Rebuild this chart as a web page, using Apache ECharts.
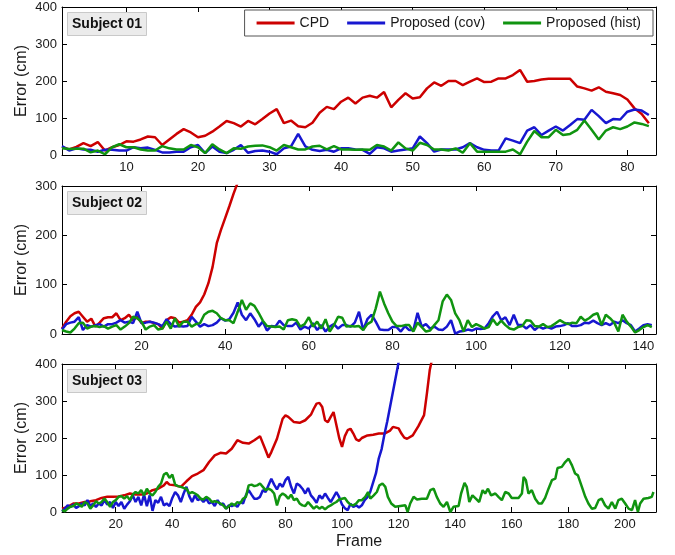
<!DOCTYPE html>
<html><head><meta charset="utf-8">
<script src="https://cdn.jsdelivr.net/npm/echarts@6/dist/echarts.min.js"></script>
<style>html,body{margin:0;padding:0;background:#fff}#c{width:675px;height:555px}</style>
</head><body><div id="c"></div>
<script>
// ---------- data ----------
const seriesNames = ['CPD', 'Proposed (cov)', 'Proposed (hist)'];
const subjectTitles = ['Subject 01', 'Subject 02', 'Subject 03'];
const xTicks1 = [10, 20, 30, 40, 50, 60, 70, 80];
const xTicks2 = [20, 40, 60, 80, 100, 120, 140];
const xTicks3 = [20, 40, 60, 80, 100, 120, 140, 160, 180, 200];

// Subject 01, frames 1..83
const s1Cpd = [22,15,22,32,24,35,12,21,27,37, 36,42,50,48,27,42,57,70,61,48,
  52,63,77,92,86,77,92,83,97,112, 124,86,93,78,75,87,114,130,124,144,
  155,139,155,160,155,170,129,149,167,153, 156,180,196,187,200,200,189,198,207,197,
  198,207,207,216,230,198,200,204,206,206, 206,206,185,180,174,183,171,167,162,150,
  126,111,86];
const s1Cov = [24,12,18,15,14,9,14,14,12,12, 21,18,20,14,7,7,9,9,21,27,
  5,23,9,5,14,27,6,11,12,9, 2,18,23,57,23,14,11,14,9,18,
  18,15,14,3,21,18,9,12,15,18, 50,32,9,15,15,15,21,32,21,14,
  12,12,45,39,32,66,75,54,66,77, 66,81,97,95,122,105,86,97,96,117,
  123,120,108];
const s1Hist = [18,16,17,17,7,12,2,21,29,21, 21,15,12,12,24,18,15,15,27,21,
  5,29,15,5,18,17,23,25,26,21, 12,27,21,15,15,23,25,15,24,15,
  15,14,15,14,27,23,12,34,18,12, 33,27,15,15,12,18,6,32,9,9,
  9,9,9,15,2,36,65,48,48,68, 54,57,68,93,68,42,66,75,70,77,
  88,84,78];

// Subject 02, frames 1..
const s2Cpd = [11,25,36,42,45,35,25,31,15,23, 32,34,34,42,28,32,39,28,35,22,
  25,25,22,20,11,28,34,32,23,25, 28,39,55,64,80,103,136,184,211,235,
  259,284,307,340,380];
const s2Cov = [9,20,23,25,34,8,18,15,18,20, 15,20,20,23,28,23,25,22,45,22,
  23,25,23,20,16,30,20,15,16,15, 16,35,25,15,20,16,18,23,32,27,
  30,43,64,39,28,42,30,15,25,7, 16,15,27,18,16,16,23,9,15,11,
  22,8,18,5,15,20,11,18,18,15, 23,45,8,30,39,25,9,8,8,14,
  14,5,16,8,8,43,15,20,11,15, 9,8,15,28,1,5,6,9,7,11,
  10,11,22,36,45,28,34,18,39,18, 18,11,18,8,15,11,14,11,15,16,
  18,22,16,16,18,23,22,27,22,18, 22,18,25,22,28,22,18,5,11,18,
  20,18];
const s2Hist = [8,5,3,11,22,23,11,15,16,14, 16,11,15,18,9,15,22,35,32,25,
  9,15,18,9,11,25,11,32,15,25, 25,15,20,22,39,45,47,42,32,28,
  28,22,45,69,49,62,57,43,27,16, 15,14,15,9,28,30,28,15,20,34,
  15,25,11,30,5,18,35,33,15,16, 15,16,8,20,25,52,86,62,42,25,
  16,16,18,18,5,23,14,5,7,18, 28,66,80,69,42,28,5,28,14,20,
  16,11,14,30,18,27,18,11,9,14, 16,28,27,16,15,20,14,16,22,28,
  23,20,23,22,35,27,32,39,42,18, 39,32,23,5,39,25,15,3,8,14,
  18,14];

// Subject 03 ([frame, error] readings)
const s3Cpd = [[1,9],[3,14],[5,23],[7,23],[9,27],[11,29],[13,32],[15,38],[17,41],[19,41],
  [21,42],[23,45],[25,50],[27,47],[29,47],[31,50],[33,59],[35,63],[37,72],[38,81],
  [39,74],[41,72],[43,68],[45,83],[47,97],[49,104],[51,113],[53,135],[55,153],[57,160],
  [59,158],[61,171],[63,194],[65,187],[67,185],[69,194],[71,205],[73,167],[74,147],[75,162],
  [77,198],[79,252],[80,261],[81,257],[83,243],[85,241],[87,248],[89,263],[90,279],[91,293],
  [92,295],[93,284],[94,248],[95,243],[96,257],[97,270],[98,235],[99,200],[100,176],[101,205],
  [102,221],[103,225],[104,212],[105,196],[106,192],[107,200],[109,207],[111,209],[113,212],[115,212],
  [117,220],[118,230],[120,226],[121,212],[122,201],[123,198],[125,207],[127,232],[129,262],[130,320],
  [131,383],[132,419],[133,460]];
const s3Cov = [2,9,18,14,20,11,16,23,18,32, 16,23,14,23,18,32,20,27,11,27,
  16,27,9,20,29,45,27,41,18,47, 16,45,3,32,25,41,18,23,16,38,
  54,45,27,50,68,43,27,45,32,36, 27,36,23,27,16,32,20,23,9,18,
  16,20,14,27,23,45,59,47,36,36, 41,59,54,72,90,74,61,77,68,86,
  95,68,50,77,72,63,50,65,45,36, 25,45,36,50,38,27,40,54,40,20,
  10,5,22,14,18,12,18,32,40,55, 80,105,145,170,210,245,285,325,365,405,
  445];
const s3HistHead = [5,2,9,14,16,23,20,14,27,23, 9,18,29,23,27,36,27,14,27,32,
  41,43,36,43,32,47,54,50,59,45, 63,50,45,54,68,77,101,106,92,101,
  74,70,68,65,63,50,54,50,45,36, 34,41,36,27,29,27,23,18,9,16,
  23,18,27,23,36,41,72,74,70,72, 77,68,59,63,59,50,18,43,50,45,
  36,47,32,36,23,18,16,27,18,9, 16,9,14,7,14,18,23,27,34,36,
  38,27,20,18,23,32];
const s3HistTail = [[107,32],[108.2,41],[109.2,54],[110,36],[111.2,45],[112.3,54],[113.2,72],[114.3,77],
  [115.3,68],[116.2,41],[117.4,23],[118.8,14],[120.6,16],[122.4,18],[123.2,0],[124.1,23],[125.3,41],
  [126.5,34],[128.2,36],[130,36],[131.2,59],[132.4,63],[133.5,41],[134.7,23],[135.9,14],[137.1,27],
  [138.3,0],[139.4,14],[141.2,16],[142.1,50],[143.3,79],[144.1,68],[145,27],[146.1,45],[147.3,36],
  [148.5,27],[149.7,59],[150.6,50],[151.6,63],[152.7,45],[154.2,50],[155.3,41],[156.5,32],[157.7,54],
  [158.9,50],[160,38],[162.4,38],[163.6,50],[164.2,95],[165,86],[165.9,50],[167.1,59],[168.3,36],
  [169.5,23],[170.6,23],[171.8,38],[173,63],[174.2,86],[175.4,90],[176.2,119],[177.7,122],[178.9,135],
  [180.1,144],[181.3,126],[182.4,104],[183.4,99],[184.8,68],[186,41],[187.1,23],[188.3,9],[189.5,11],
  [190.7,32],[191.8,36],[193,18],[194.2,9],[195.4,27],[196.6,9],[197.7,32],[198.9,36],[200.1,23],
  [201.3,9],[202.5,5],[203.6,32],[204.6,0],[205.4,23],[206.6,36],[208.3,38],[209.5,41],[210.1,54]];

// ---------- chart ----------
const FONT = '"Liberation Sans", Arial, Helvetica, sans-serif';
const COLORS = ['#cc0000', '#1717d0', '#109410'];
const TXT = '#1a1a1a';
const perFrame = arr => arr.map((v, i) => [i + 1, v]);

const panels = [
  { top: 7,   xMin: 1, xMax: 84,  ticks: xTicks1, yMax: 400,
    data: [perFrame(s1Cpd), perFrame(s1Cov), perFrame(s1Hist)] },
  { top: 186, xMin: 1, xMax: 143, ticks: xTicks2, yMax: 300,
    data: [perFrame(s2Cpd), perFrame(s2Cov), perFrame(s2Hist)] },
  { top: 364, xMin: 1, xMax: 211, ticks: xTicks3, yMax: 400,
    data: [s3Cpd, perFrame(s3Cov), perFrame(s3HistHead).concat(s3HistTail)] }
];

const grid = [], xAxis = [], yAxis = [], series = [], title = [];
const lineAx = { show: true, onZero: false, lineStyle: { color: '#000', width: 1 } };
const tickSt = { color: '#000', width: 1 };

panels.forEach((p, i) => {
  grid.push({ left: 62, width: 594, top: p.top, height: 148 });
  xAxis.push({
    gridIndex: i, type: 'value', min: p.xMin, max: p.xMax, position: 'bottom',
    axisLine: lineAx,
    axisTick: { show: true, inside: true, length: 5, customValues: p.ticks, lineStyle: tickSt },
    axisLabel: { show: true, customValues: p.ticks, margin: 6, color: TXT, fontSize: 13, fontFamily: FONT },
    splitLine: { show: false },
    name: i === 2 ? 'Frame' : '', nameLocation: 'middle', nameGap: 22, nameMoveOverlap: false,
    nameTextStyle: { fontSize: 16, fontFamily: FONT, color: TXT }
  });
  xAxis.push({
    gridIndex: i, type: 'value', min: p.xMin, max: p.xMax, position: 'top',
    axisLine: lineAx,
    axisTick: { show: true, inside: true, length: 5, customValues: p.ticks, lineStyle: tickSt },
    axisLabel: { show: false }, splitLine: { show: false }
  });
  yAxis.push({
    gridIndex: i, type: 'value', min: 0, max: p.yMax, interval: 100, position: 'left',
    axisLine: lineAx,
    axisTick: { show: true, inside: true, length: 5, lineStyle: tickSt },
    axisLabel: { show: true, margin: 5, color: TXT, fontSize: 13, fontFamily: FONT },
    splitLine: { show: false },
    name: 'Error (cm)', nameLocation: 'middle', nameGap: 32, nameMoveOverlap: false,
    nameTextStyle: { fontSize: 16, fontFamily: FONT, color: TXT }
  });
  yAxis.push({
    gridIndex: i, type: 'value', min: 0, max: p.yMax, interval: 100, position: 'right',
    axisLine: lineAx,
    axisTick: { show: true, inside: true, length: 5, lineStyle: tickSt },
    axisLabel: { show: false }, splitLine: { show: false }
  });
  p.data.forEach((d, k) => {
    series.push({
      type: 'line', name: seriesNames[k], data: d,
      xAxisIndex: 2 * i, yAxisIndex: 2 * i,
      showSymbol: false, symbol: 'none', clip: true,
      lineStyle: { color: COLORS[k], width: 2.5 },
      itemStyle: { color: COLORS[k] },
      z: 2 + k
    });
  });
  title.push({
    text: subjectTitles[i], left: 67, top: p.top + 5,
    padding: [5, 5], backgroundColor: '#ebebeb', borderColor: '#c9c9c9', borderWidth: 1,
    textStyle: { fontSize: 14, fontWeight: 'bold', fontFamily: FONT, color: '#111' }
  });
});

const chart = echarts.init(document.getElementById('c'), null, { renderer: 'canvas' });
chart.setOption({
  animation: false,
  backgroundColor: '#fff',
  title, grid, xAxis, yAxis, series,
  legend: {
    data: seriesNames, right: 22, top: 10, orient: 'horizontal',
    icon: 'rect', itemWidth: 38, itemHeight: 3, itemGap: 18,
    textStyle: { fontSize: 14, fontFamily: FONT, color: TXT },
    backgroundColor: '#fff', borderColor: '#555', borderWidth: 1,
    padding: [6, 12, 6, 12]
  }
});
</script>
</body></html>
